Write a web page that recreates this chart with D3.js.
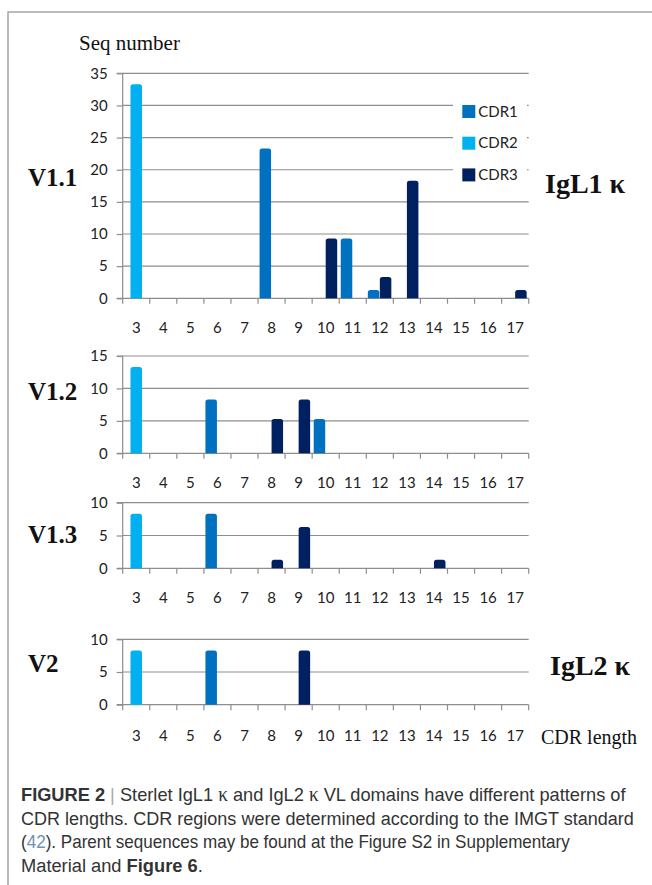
<!DOCTYPE html>
<html>
<head>
<meta charset="utf-8">
<script src="https://cdn.jsdelivr.net/npm/d3@7"></script>
<style>
  html, body { margin: 0; padding: 0; background: #fff; }
  svg { display: block; }
</style>
</head>
<body>
<script>
// ---------- DATA ----------
const categories = [3, 4, 5, 6, 7, 8, 9, 10, 11, 12, 13, 14, 15, 16, 17];
const seriesNames = ["CDR1", "CDR2", "CDR3"];

// V1.1 (IgL1 κ)
const v11_CDR1 = [0, 0, 0, 0, 0, 23.3, 0, 0, 9.3, 1.3, 0, 0, 0, 0, 0];
const v11_CDR2 = [33.3, 0, 0, 0, 0, 0, 0, 0, 0, 0, 0, 0, 0, 0, 0];
const v11_CDR3 = [0, 0, 0, 0, 0, 0, 0, 9.3, 0, 3.3, 18.3, 0, 0, 0, 1.3];
const v11_ticks = [0, 5, 10, 15, 20, 25, 30, 35];

// V1.2
const v12_CDR1 = [0, 0, 0, 8.3, 0, 0, 0, 5.3, 0, 0, 0, 0, 0, 0, 0];
const v12_CDR2 = [13.3, 0, 0, 0, 0, 0, 0, 0, 0, 0, 0, 0, 0, 0, 0];
const v12_CDR3 = [0, 0, 0, 0, 0, 5.3, 8.3, 0, 0, 0, 0, 0, 0, 0, 0];
const v12_ticks = [0, 5, 10, 15];

// V1.3
const v13_CDR1 = [0, 0, 0, 8.3, 0, 0, 0, 0, 0, 0, 0, 0, 0, 0, 0];
const v13_CDR2 = [8.3, 0, 0, 0, 0, 0, 0, 0, 0, 0, 0, 0, 0, 0, 0];
const v13_CDR3 = [0, 0, 0, 0, 0, 1.3, 6.3, 0, 0, 0, 0, 1.3, 0, 0, 0];
const v13_ticks = [0, 5, 10];

// V2 (IgL2 κ)
const v2_CDR1 = [0, 0, 0, 8.3, 0, 0, 0, 0, 0, 0, 0, 0, 0, 0, 0];
const v2_CDR2 = [8.3, 0, 0, 0, 0, 0, 0, 0, 0, 0, 0, 0, 0, 0, 0];
const v2_CDR3 = [0, 0, 0, 0, 0, 0, 8.3, 0, 0, 0, 0, 0, 0, 0, 0];
const v2_ticks = [0, 5, 10];

const panelLabels = ["V1.1", "V1.2", "V1.3", "V2"];
const chainLabels = ["IgL1 κ", "IgL2 κ"];

// ---------- LAYOUT / STYLE ----------
const W = 652, H = 885;
const colors = { CDR1: "#0070c0", CDR2: "#00b0f0", CDR3: "#002060" };
const gridColor = "#8e8e8e";
const numFont = "Lato, 'Open Sans', sans-serif";
const serif = "'Liberation Serif', 'Times New Roman', serif";
const plotLeft = 122.7, plotRight = 528.7;
const barW = 11.5;
const seriesOffset = { CDR1: -12, CDR2: -barW / 2, CDR3: 0 };

const panels = [
  { data: { CDR1: v11_CDR1, CDR2: v11_CDR2, CDR3: v11_CDR3 }, ticks: v11_ticks, top: 73.3, bottom: 298.3, labY: 332.5, label: panelLabels[0], labBase: 186 },
  { data: { CDR1: v12_CDR1, CDR2: v12_CDR2, CDR3: v12_CDR3 }, ticks: v12_ticks, top: 356, bottom: 453.3, labY: 487.5, label: panelLabels[1], labBase: 400 },
  { data: { CDR1: v13_CDR1, CDR2: v13_CDR2, CDR3: v13_CDR3 }, ticks: v13_ticks, top: 502.7, bottom: 568.3, labY: 603, label: panelLabels[2], labBase: 543 },
  { data: { CDR1: v2_CDR1, CDR2: v2_CDR2, CDR3: v2_CDR3 }, ticks: v2_ticks, top: 639.3, bottom: 704.7, labY: 741, label: panelLabels[3], labBase: 672 }
];

const svg = d3.select("body").append("svg")
  .attr("width", W).attr("height", H)
  .attr("viewBox", `0 0 ${W} ${H}`);

// frame
svg.append("path")
  .attr("d", `M${W},12 L8,12 L8,${H}`)
  .attr("fill", "none").attr("stroke", "#a6a6a6").attr("stroke-width", 1.5);

// y-axis title
svg.append("text").attr("x", 79).attr("y", 50)
  .attr("font-family", serif).attr("font-size", 21).attr("fill", "#111")
  .text("Seq number");

const x = d3.scaleBand().domain(categories).range([plotLeft, plotRight]).paddingInner(0).paddingOuter(0);

function topRoundedBar(x0, y0, w, h, r) {
  r = Math.min(r, h, w / 2);
  const y1 = y0 + h;
  return `M${x0},${y1} L${x0},${y0 + r} Q${x0},${y0} ${x0 + r},${y0} L${x0 + w - r},${y0} Q${x0 + w},${y0} ${x0 + w},${y0 + r} L${x0 + w},${y1} Z`;
}

panels.forEach((p, pi) => {
  const y = d3.scaleLinear().domain([0, d3.max(p.ticks)]).range([p.bottom, p.top]);
  const g = svg.append("g");

  // gridlines (excluding 0)
  g.selectAll("line.grid").data(p.ticks.filter(t => t > 0)).join("line")
    .attr("x1", plotLeft).attr("x2", plotRight)
    .attr("y1", d => y(d)).attr("y2", d => y(d))
    .attr("stroke", gridColor).attr("stroke-width", 1.2);

  // y axis
  const yAxis = d3.axisLeft(y).tickValues(p.ticks).tickSize(6).tickPadding(9).tickFormat(d3.format("d"));
  const ya = g.append("g").attr("transform", `translate(${plotLeft},0)`).call(yAxis);
  ya.select(".domain").attr("stroke", gridColor).attr("stroke-width", 1.2).attr("d", `M-6,${p.bottom}H0V${p.top}H-6`);
  ya.selectAll(".tick line").attr("stroke", gridColor).attr("stroke-width", 1.2);
  ya.selectAll(".tick text").attr("font-family", numFont).attr("font-size", 15).attr("fill", "#222");

  // x axis (ticks at category boundaries)
  const bounds = categories.map(c => x(c)).concat([plotRight]);
  g.append("line").attr("x1", plotLeft).attr("x2", plotRight)
    .attr("y1", p.bottom).attr("y2", p.bottom)
    .attr("stroke", gridColor).attr("stroke-width", 1.2);
  g.selectAll("line.xt").data(bounds).join("line")
    .attr("x1", d => d).attr("x2", d => d)
    .attr("y1", p.bottom).attr("y2", p.bottom + 5.5)
    .attr("stroke", gridColor).attr("stroke-width", 1.2);
  g.selectAll("text.xl").data(categories).join("text")
    .attr("x", d => x(d) + x.bandwidth() / 2).attr("y", p.labY)
    .attr("text-anchor", "middle")
    .attr("font-family", numFont).attr("font-size", 15).attr("fill", "#222")
    .text(d => d);

  // bars
  seriesNames.forEach(s => {
    const vals = p.data[s];
    const bars = categories.map((c, i) => ({ c, v: vals[i] })).filter(d => d.v > 0);
    g.selectAll(`path.bar-${s}`).data(bars).join("path")
      .attr("d", d => {
        const cx = x(d.c) + x.bandwidth() / 2 + seriesOffset[s];
        const yt = y(d.v);
        return topRoundedBar(cx, yt, barW, p.bottom - yt, 2.5);
      })
      .attr("fill", colors[s]);
  });

  // panel label
  svg.append("text").attr("x", 28).attr("y", p.labBase)
    .attr("font-family", serif).attr("font-weight", "bold").attr("font-size", 25)
    .attr("fill", "#111").text(p.label);

  // legend in the first panel
  if (pi === 0) {
    const lg = svg.append("g");
    lg.append("rect").attr("x", 453).attr("y", 96).attr("width", 74).attr("height", 94).attr("fill", "#fff");
    seriesNames.forEach((s, i) => {
      const ly = 105 + i * 31.7;
      lg.append("rect").attr("x", 462.3).attr("y", ly).attr("width", 13).attr("height", 13).attr("fill", colors[s]);
      lg.append("text").attr("x", 478.3).attr("y", ly + 11.5)
        .attr("font-family", numFont).attr("font-size", 15).attr("fill", "#222").text(s);
    });
  }
});

// chain labels
svg.append("text").attr("x", 545).attr("y", 193)
  .attr("font-family", serif).attr("font-weight", "bold").attr("font-size", 28)
  .attr("fill", "#111").text(chainLabels[0]);
svg.append("text").attr("x", 550).attr("y", 675)
  .attr("font-family", serif).attr("font-weight", "bold").attr("font-size", 28)
  .attr("fill", "#111").text(chainLabels[1]);

// x-axis title
svg.append("text").attr("x", 541).attr("y", 743.5)
  .attr("font-family", serif).attr("font-size", 20).attr("fill", "#111")
  .text("CDR length");

// caption (condensed look: each line horizontally scaled to the width it has in the figure)
const capFont = "'Liberation Sans', Arial, sans-serif";
const capSize = 19;
const capColor = "#333";
const capX = 21;
const capLines = [
  [{ t: "FIGURE 2", b: true }, { t: " " }, { t: "|", c: "#aaa" }, { t: " Sterlet IgL1 " }, { t: "κ", serif: true }, { t: " and IgL2 " }, { t: "κ", serif: true }, { t: " VL domains have different patterns of" }],
  [{ t: "CDR lengths. CDR regions were determined according to the IMGT standard" }],
  [{ t: "(" }, { t: "42", c: "#6f8fb5" }, { t: "). Parent sequences may be found at the Figure S2 in Supplementary" }],
  [{ t: "Material and " }, { t: "Figure 6", b: true }, { t: "." }]
];
const capWidths = [605, 613, 549, 182];
const capBase = [801, 824.5, 848, 871.5];
capLines.forEach((parts, i) => {
  const t = svg.append("text").attr("x", 0).attr("y", 0)
    .attr("font-family", capFont).attr("font-size", capSize).attr("fill", capColor)
    .attr("xml:space", "preserve");
  parts.forEach(pt => {
    const ts = t.append("tspan").text(pt.t);
    if (pt.b) ts.attr("font-weight", "bold");
    if (pt.c) ts.attr("fill", pt.c);
    if (pt.serif) ts.attr("font-family", serif).attr("font-size", capSize + 1);
  });
  const natural = t.node().getComputedTextLength() || capWidths[i];
  t.attr("transform", `translate(${capX},${capBase[i]}) scale(${capWidths[i] / natural},1)`);
});
</script>
</body>
</html>
